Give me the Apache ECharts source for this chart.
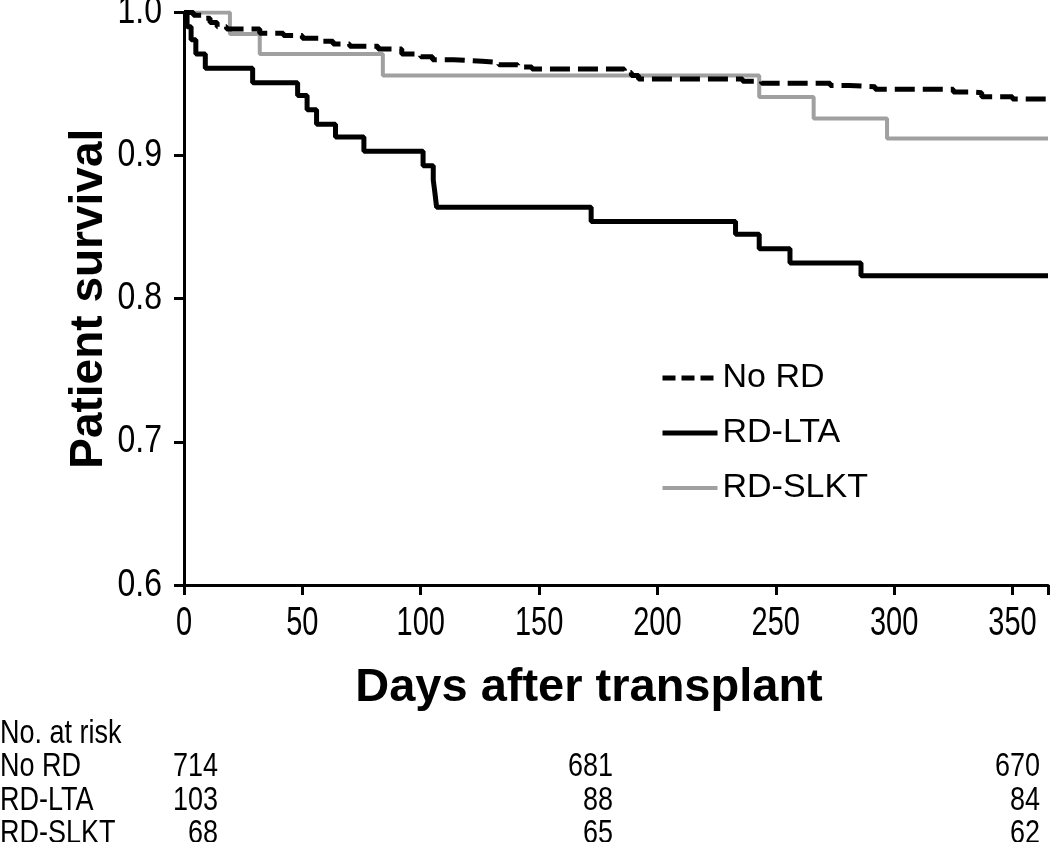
<!DOCTYPE html>
<html>
<head>
<meta charset="utf-8">
<script src="https://cdn.jsdelivr.net/npm/echarts@6/dist/echarts.min.js"></script>
<style>
  html, body { margin: 0; padding: 0; background: #fff; }
  #chart { width: 1050px; height: 842px; }
</style>
</head>
<body>
<div id="chart"></div>
<script>
// ---- Data ----
const seriesNames = ['No RD', 'RD-LTA', 'RD-SLKT'];

const noRdDays = [0, 4, 8, 11, 14, 18, 32, 42, 50, 58, 63, 70, 82, 92, 100, 105, 114, 126, 133, 141, 147, 186, 189, 192, 236, 244, 273, 281, 292, 325, 332, 337, 350, 365];
const noRdSurv = [1.0, 0.998, 0.996, 0.993, 0.990, 0.9885, 0.9855, 0.984, 0.982, 0.980, 0.978, 0.9765, 0.9745, 0.971, 0.969, 0.967, 0.966, 0.9652, 0.9635, 0.962, 0.9605, 0.958, 0.956, 0.9535, 0.952, 0.9505, 0.949, 0.9482, 0.9463, 0.9445, 0.944, 0.9412, 0.9395, 0.9385];

const ltaDays = [0, 1.3, 3, 5, 9, 29, 48, 52, 56, 64, 76, 101, 105.3, 106, 106.7, 172, 233, 243, 256, 286, 365];
const ltaSurv = [1.0, 0.990, 0.981, 0.971, 0.961, 0.951, 0.942, 0.932, 0.922, 0.913, 0.903, 0.893, 0.883, 0.874, 0.864, 0.854, 0.845, 0.835, 0.825, 0.816, 0.816];

const slktDays = [0, 19.4, 32, 84, 243, 266, 297, 365];
const slktSurv = [1.0, 0.985, 0.971, 0.956, 0.941, 0.926, 0.912, 0.912];

const yTicks = [0.6, 0.7, 0.8, 0.9, 1.0];
const xTicks = [0, 50, 100, 150, 200, 250, 300, 350];

const atRiskTitle = 'No. at risk';
const atRiskNoRd = [714, 681, 670];
const atRiskLta = [103, 88, 84];
const atRiskSlkt = [68, 65, 62];

// ---- Build ----
const zip = (d, v) => d.map((x, i) => [x, v[i]]);
const FONT = '"Liberation Sans", Arial, Helvetica, sans-serif';

const chart = echarts.init(document.getElementById('chart'));

const axisCommon = {
  axisLine: { show: true, lineStyle: { color: '#000', width: 3 } },
  axisTick: { show: true, inside: false, length: 10, lineStyle: { color: '#000', width: 3 } },
  axisLabel: { show: false },
  splitLine: { show: false }
};

chart.setOption({
  animation: false,
  backgroundColor: '#fff',
  grid: { left: 184, right: 2, top: 12.5, bottom: 257, containLabel: false },
  xAxis: Object.assign({}, axisCommon, {
    type: 'value', min: 0, max: 365, interval: 50,
    name: 'Days after transplant',
    nameLocation: 'middle', nameGap: 80,
    nameTextStyle: { color: '#000', fontSize: 47, fontWeight: 'bold', fontFamily: FONT, padding: [0, 54, 0, 0] }
  }),
  yAxis: Object.assign({}, axisCommon, {
    type: 'value', min: 0.6, max: 1.0, interval: 0.1,
    name: 'Patient survival',
    nameLocation: 'middle', nameGap: 72,
    nameTextStyle: { color: '#000', fontSize: 46, fontWeight: 'bold', fontFamily: FONT }
  }),
  legend: {
    orient: 'vertical', left: 660, top: 358, itemGap: 15, padding: 0,
    itemWidth: 55, itemHeight: 14,
    itemStyle: { opacity: 0, color: 'transparent', borderColor: 'transparent', borderWidth: 0 },
    textStyle: { color: '#000', fontSize: 34, fontFamily: FONT, lineHeight: 40 },
    data: [
      { name: seriesNames[0], lineStyle: { type: [13, 6], width: 5, color: '#000' } },
      { name: seriesNames[1], lineStyle: { width: 5, color: '#000' } },
      { name: seriesNames[2], lineStyle: { width: 4, color: '#a0a0a0' } }
    ]
  },
  series: [
    {
      name: seriesNames[0], type: 'line', step: 'end', showSymbol: false, symbol: 'none',
      data: zip(noRdDays, noRdSurv),
      lineStyle: { color: '#000', width: 5, type: [20, 8] },
      itemStyle: { color: '#000' }, z: 3
    },
    {
      name: seriesNames[1], type: 'line', step: 'end', showSymbol: false, symbol: 'none',
      data: zip(ltaDays, ltaSurv),
      lineStyle: { color: '#000', width: 5 },
      itemStyle: { color: '#000' }, z: 2
    },
    {
      name: seriesNames[2], type: 'line', step: 'end', showSymbol: false, symbol: 'none',
      data: zip(slktDays, slktSurv),
      lineStyle: { color: '#a0a0a0', width: 4 },
      itemStyle: { color: '#a0a0a0' }, z: 2
    }
  ]
});

// ---- Tick labels placed through the axes' own scales (reference glyphs are tall and narrow) ----
const graphics = [];
xTicks.forEach(v => {
  const p = chart.convertToPixel({ gridIndex: 0 }, [v, 0.6]);
  graphics.push({
    type: 'text', x: p[0], y: p[1] + 19, scaleY: 1.38,
    style: { text: String(v), x: 0, y: 0, font: '29px ' + FONT, fill: '#000', textAlign: 'center', textVerticalAlign: 'top' }
  });
});
yTicks.forEach(v => {
  const p = chart.convertToPixel({ gridIndex: 0 }, [0, v]);
  graphics.push({
    type: 'text', x: p[0] - 22, y: p[1], scaleY: 1.2,
    style: { text: v.toFixed(1), x: 0, y: 0, font: '32px ' + FONT, fill: '#000', textAlign: 'right', textVerticalAlign: 'middle' }
  });
});

// ---- Number-at-risk table ----
const colRight = [218, 613, 1040];
const rowY = [734, 767, 801, 834];
const TABLE_TALL = 1.25;
const tableRows = [
  { name: seriesNames[0], vals: atRiskNoRd },
  { name: seriesNames[1], vals: atRiskLta },
  { name: seriesNames[2], vals: atRiskSlkt }
];
graphics.push({
  type: 'text', x: 0, y: rowY[0], scaleY: TABLE_TALL,
  style: { text: atRiskTitle, x: 0, y: 0, font: '27px ' + FONT, fill: '#000', textAlign: 'left', textVerticalAlign: 'middle' }
});
tableRows.forEach((r, i) => {
  graphics.push({
    type: 'text', x: 0, y: rowY[i + 1], scaleY: TABLE_TALL,
    style: { text: r.name, x: 0, y: 0, font: '27px ' + FONT, fill: '#000', textAlign: 'left', textVerticalAlign: 'middle' }
  });
  r.vals.forEach((v, j) => {
    graphics.push({
      type: 'text', x: colRight[j], y: rowY[i + 1], scaleY: TABLE_TALL,
      style: { text: String(v), x: 0, y: 0, font: '27px ' + FONT, fill: '#000', textAlign: 'right', textVerticalAlign: 'middle' }
    });
  });
});

chart.setOption({ graphic: graphics });
</script>
</body>
</html>
